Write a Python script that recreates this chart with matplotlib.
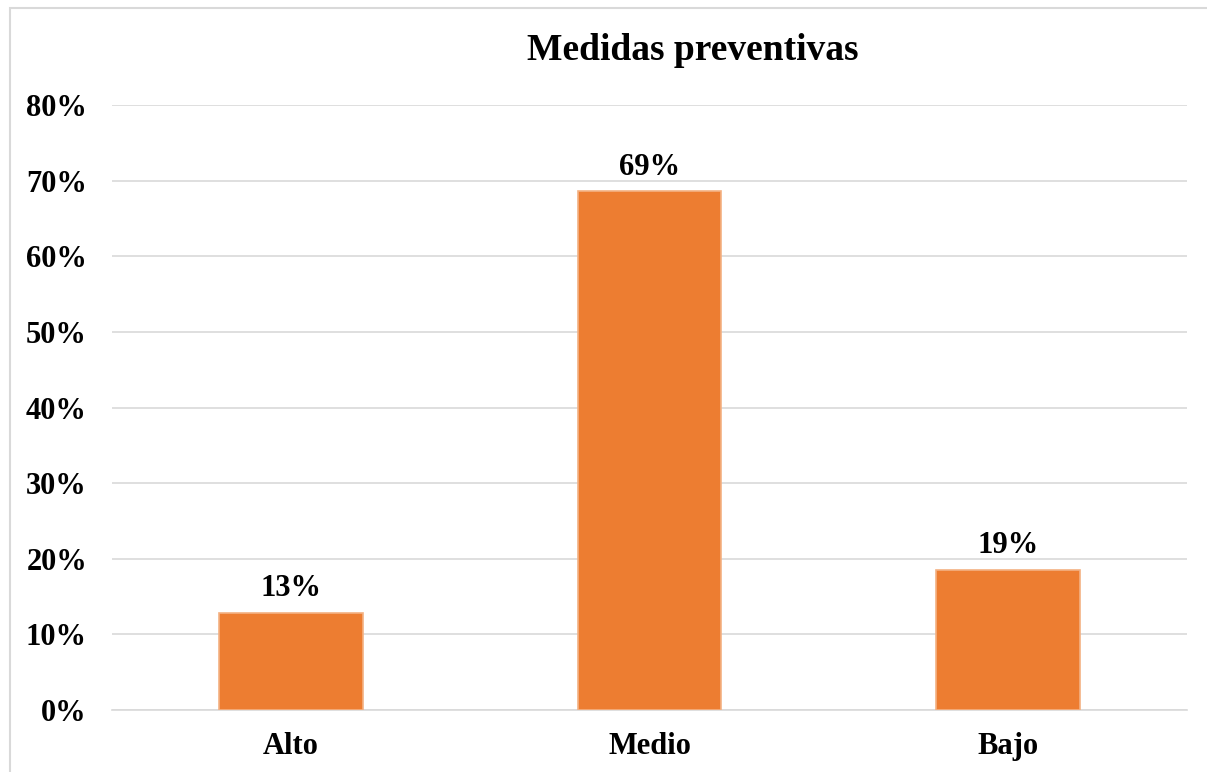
import matplotlib
matplotlib.use("Agg")
import matplotlib.pyplot as plt
from matplotlib.patches import Rectangle
from matplotlib.ticker import PercentFormatter

categories = ["Alto", "Medio", "Bajo"]
shares = [0.1286, 0.6857, 0.1857]
yticks = [0.0, 0.1, 0.2, 0.3, 0.4, 0.5, 0.6, 0.7, 0.8]

plt.rcParams["font.family"] = ["Liberation Serif", "DejaVu Serif"]
plt.rcParams["font.weight"] = "bold"

fig = plt.figure(figsize=(12.07, 7.72), dpi=100)
ax = fig.add_axes([112 / 1207, 1 - 710 / 772, (1187 - 112) / 1207, (710 - 105) / 772])

# chart frame
fig.patches.append(Rectangle((10 / 1207, -0.1), 1.2, 1 - 8 / 772 + 0.1, transform=fig.transFigure,
                             fill=False, edgecolor="#D9D9D9", lw=1.5))

x = range(len(categories))
bars = ax.bar(x, shares, width=0.4, color="#ED7D31", edgecolor="#F4B183", linewidth=1.2, zorder=3)
for b, v in zip(bars, shares):
    ax.annotate(f"{round(v * 100):d}%", (b.get_x() + b.get_width() / 2, v), xytext=(0, 7),
                textcoords="offset points", ha="center", va="bottom", fontsize=22, fontweight="bold")

ax.set_xlim(-0.5, 2.5)
ax.set_ylim(0, 0.8)
ax.set_yticks(yticks)
ax.yaxis.set_major_formatter(PercentFormatter(1.0, decimals=0))
ax.set_xticks(list(x))
ax.set_xticklabels(categories)
ax.tick_params(axis="both", length=0, labelsize=22)
ax.tick_params(axis="y", pad=18)
ax.tick_params(axis="x", pad=16)
ax.grid(axis="y", color="#D9D9D9", lw=1.2, zorder=0)
for s in ["left", "right", "top"]:
    ax.spines[s].set_visible(False)
ax.spines["bottom"].set_color("#D9D9D9")
ax.spines["bottom"].set_linewidth(1.2)

fig.text(693 / 1207, 1 - 50 / 772, "Medidas preventivas", ha="center", va="center",
         fontsize=27, fontweight="bold")

fig.savefig("out.png", dpi=100)
